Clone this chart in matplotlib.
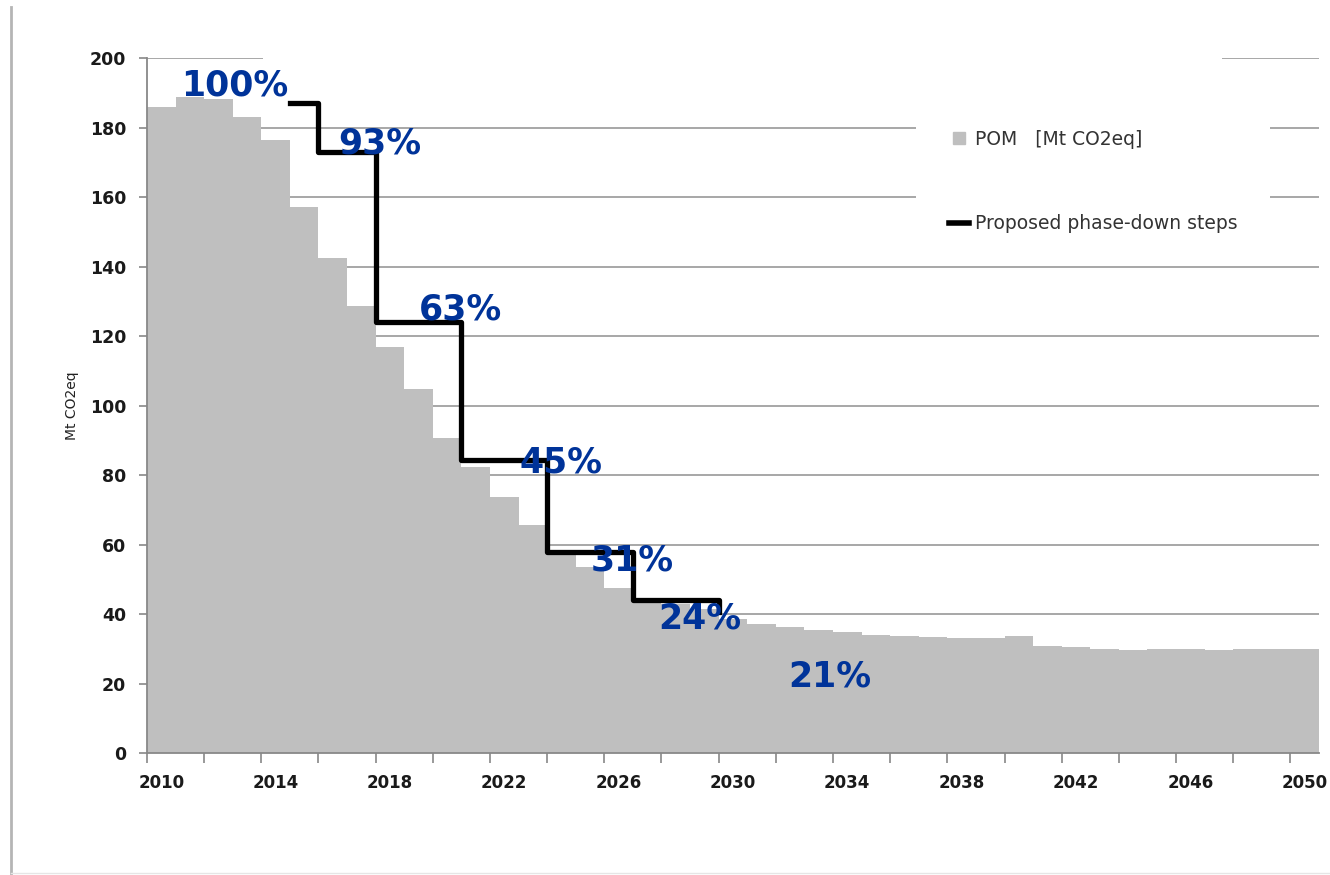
import numpy as np
import matplotlib.pyplot as plt
from matplotlib.lines import Line2D

# data
years = np.arange(2010, 2051)
pom = [185.9, 188.8, 188.3, 183.2, 176.5, 157.3, 142.4, 128.7, 117.0, 104.8,
       90.6, 82.5, 73.8, 65.7, 57.0, 53.7, 47.5, 44.0, 43.0, 41.5,
       38.6, 37.3, 36.2, 35.4, 35.0, 34.0, 33.8, 33.5, 33.3, 33.1,
       33.8, 30.8, 30.5, 30.1, 29.6, 30.0, 30.0, 29.8, 29.9, 30.0, 30.0]

step_years = [2015, 2016, 2018, 2021, 2024, 2027, 2030]
step_vals = [187.0, 173.0, 124.0, 84.5, 58.0, 44.0, 40.8]

pct_text = ['100%', '93%', '63%', '45%', '31%', '24%', '21%']
# where the percentage labels sit (year, value)
pct_x = [2013.07, 2018.15, 2020.96, 2024.5, 2026.97, 2029.35, 2033.9]
pct_y = [192.3, 175.5, 127.6, 83.8, 55.5, 38.8, 22.0]

label_years = list(range(2010, 2051, 4))

fig = plt.figure(figsize=(13.3, 8.75), dpi=100)
ax = fig.add_axes([0.1105, 0.1391, 0.8812, 0.7943])

grid_col = '#a0a0a0'
for v in range(20, 200, 20):
    ax.axhline(v, color=grid_col, lw=1.3, zorder=0)
# the top gridline is only partly visible in the original
ax.hlines(200, 2010, 2014.05, color=grid_col, lw=1.3, zorder=0)
ax.hlines(200, 2047.6, 2051, color=grid_col, lw=1.3, zorder=0)

ax.bar(years, pom, width=1.0, align='edge', color='#bfbfbf', zorder=1)
ax.step(step_years, step_vals, where='post', color='black', lw=3.8, zorder=3)

for t, x, y in zip(pct_text, pct_x, pct_y):
    ax.text(x, y, t, color='#003399', fontsize=25, fontweight='bold',
            ha='center', va='center', zorder=4)

ax.set_xlim(2010, 2051)
ax.set_ylim(0, 200)

ax.set_yticks(range(0, 201, 20))
ax.tick_params(axis='y', length=6, width=1.2, color='#888888', pad=9,
               labelsize=12.5, labelcolor='#1a1a1a')
for lab in ax.get_yticklabels():
    lab.set_fontweight('bold')

ax.set_xticks(range(2010, 2051, 2))
ax.set_xticklabels([])
ax.set_xticks([y + 0.5 for y in label_years], minor=True)
ax.set_xticklabels([str(y) for y in label_years], minor=True)
ax.tick_params(axis='x', which='major', length=7, width=1.2, color='#888888')
ax.tick_params(axis='x', which='minor', length=0, pad=15, labelsize=12,
               labelcolor='#1a1a1a')
for lab in ax.get_xticklabels(minor=True):
    lab.set_fontweight('bold')

ax.set_ylabel('Mt CO2eq', fontsize=10, color='#222222', labelpad=8)

for s in ['top', 'right']:
    ax.spines[s].set_visible(False)
for s in ['left', 'bottom']:
    ax.spines[s].set_color('#888888')
    ax.spines[s].set_linewidth(1.3)

handles = [Line2D([], [], marker='s', color='#bfbfbf', markersize=8, linestyle='none'),
           Line2D([], [], color='black', lw=4)]
leg = ax.legend(handles, ['POM   [Mt CO2eq]', 'Proposed phase-down steps'],
                loc='upper left', bbox_to_anchor=(0.648, 0.958), fontsize=13.5,
                frameon=True, facecolor='white', edgecolor='none', framealpha=1,
                fancybox=False, borderpad=1.75, labelspacing=3.5,
                handlelength=1.1, handletextpad=0.3)
leg.set_zorder(5)
for txt in leg.get_texts():
    txt.set_color('#333333')

# page border lines of the original slide
fig.add_artist(Line2D([11 / 1330, 11 / 1330], [0, 1 - 7 / 875],
                      transform=fig.transFigure, color='#b5b5b5', lw=2))
fig.add_artist(Line2D([11 / 1330, 1], [2 / 875, 2 / 875],
                      transform=fig.transFigure, color='#e6e6e6', lw=1))

fig.savefig('out.png', dpi=100)
